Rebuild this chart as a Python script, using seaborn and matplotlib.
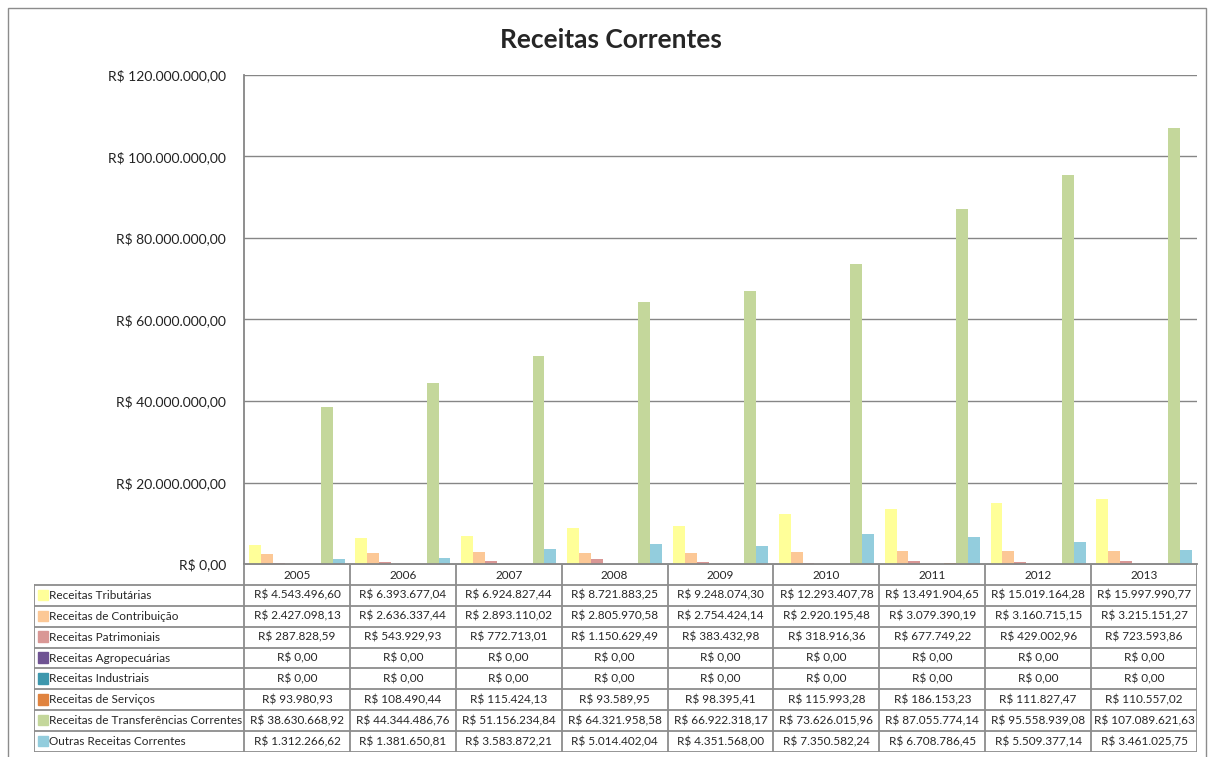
import numpy as np
import pandas as pd
import seaborn as sns
import matplotlib.pyplot as plt
from matplotlib.patches import Rectangle
from matplotlib.ticker import FuncFormatter

# --------------------------------------------------
# DATA (read from the chart's data table)
# --------------------------------------------------

anos = ["2005", "2006", "2007", "2008", "2009", "2010", "2011", "2012", "2013"]

series = [
    "Receitas Tributárias",
    "Receitas de Contribuição",
    "Receitas Patrimoniais",
    "Receitas Agropecuárias",
    "Receitas Industriais",
    "Receitas de Serviços",
    "Receitas de Transferências Correntes",
    "Outras Receitas Correntes",
]

tributarias = [4543496.60, 6393677.04, 6924827.44, 8721883.25, 9248074.30,
               12293407.78, 13491904.65, 15019164.28, 15997990.77]
contribuicao = [2427098.13, 2636337.44, 2893110.02, 2805970.58, 2754424.14,
                2920195.48, 3079390.19, 3160715.15, 3215151.27]
patrimoniais = [287828.59, 543929.93, 772713.01, 1150629.49, 383432.98,
                318916.36, 677749.22, 429002.96, 723593.86]
agropecuarias = [0.0, 0.0, 0.0, 0.0, 0.0, 0.0, 0.0, 0.0, 0.0]
industriais = [0.0, 0.0, 0.0, 0.0, 0.0, 0.0, 0.0, 0.0, 0.0]
servicos = [93980.93, 108490.44, 115424.13, 93589.95, 98395.41,
            115993.28, 186153.23, 111827.47, 110557.02]
transferencias = [38630668.92, 44344486.76, 51156234.84, 64321958.58, 66922318.17,
                  73626015.96, 87055774.14, 95558939.08, 107089621.63]
outras = [1312266.62, 1381650.81, 3583872.21, 5014402.04, 4351568.00,
          7350582.24, 6708786.45, 5509377.14, 3461025.75]

cores = ["#FFFF99", "#FCC896", "#D99795", "#6F5393",
         "#3D97AD", "#E0833F", "#C4D79B", "#93CDDD"]

valores = [tributarias, contribuicao, patrimoniais, agropecuarias,
           industriais, servicos, transferencias, outras]

df = pd.DataFrame(
    [(a, s, v[i]) for s, v in zip(series, valores) for i, a in enumerate(anos)],
    columns=["ano", "serie", "valor"],
)


def brl(x, pos=None):
    s = f"{x:,.2f}".replace(",", "_").replace(".", ",").replace("_", ".")
    return f"R$ {s}"


# --------------------------------------------------
# FIGURE
# --------------------------------------------------

sns.set_style("white")
plt.rcParams["font.family"] = ["Lato", "DejaVu Sans"]

W, H = 1214, 757
fig = plt.figure(figsize=(W / 100, H / 100), dpi=100)

grid_col = "#868686"

# outer chart border
fig.patches.append(Rectangle((8 / W, -0.01), 1198 / W, 1 - 8 / H + 0.01,
                             transform=fig.transFigure, fill=False,
                             edgecolor="#8c8c8c", linewidth=1))

left, right, top, bottom = 244, 1197, 75, 564
ax = fig.add_axes([left / W, 1 - bottom / H, (right - left) / W, (bottom - top) / H])

sns.barplot(data=df, x="ano", y="valor", hue="serie", palette=cores,
            width=0.9, ax=ax, legend=False, linewidth=0, saturation=1)

ax.set_ylim(0, 120000000)
ax.set_yticks(np.arange(0, 120000001, 20000000))
ax.yaxis.set_major_formatter(FuncFormatter(brl))
ax.set_xlim(-0.5, len(anos) - 0.5)
ax.set_xticks([])
ax.set_xlabel("")
ax.set_ylabel("")
ax.tick_params(axis="y", length=0, pad=13, labelsize=10, labelcolor="#222222")
ax.yaxis.grid(True, color=grid_col, linewidth=1)
ax.set_axisbelow(True)
for side in ["top", "right"]:
    ax.spines[side].set_visible(False)
for side in ["left", "bottom"]:
    ax.spines[side].set_color(grid_col)
    ax.spines[side].set_linewidth(1.3)

fig.text(0.503, 1 - 40 / H, "Receitas Correntes", ha="center", va="center",
         fontsize=19, fontweight="bold")

# --------------------------------------------------
# DATA TABLE
# --------------------------------------------------

tab_left, tab_bottom = 34, 752
label_w = (left - tab_left) / ((right - left) / len(anos))
tab = fig.add_axes([tab_left / W, 1 - tab_bottom / H,
                    (right - tab_left) / W, (tab_bottom - bottom) / H])
tab.set_xlim(-0.5 - label_w, len(anos) - 0.5)
tab.set_ylim(len(series) + 1, 0)
tab.axis("off")

lc = "#8c8c8c"
x0, x1 = -0.5 - label_w, len(anos) - 0.5
n = len(series)
# header row
tab.plot([-0.5, x1], [0, 0], color=lc, lw=1.3)
for j in range(len(anos) + 1):
    tab.plot([j - 0.5, j - 0.5], [0, n + 1], color=lc, lw=1.3)
for i in range(1, n + 2):
    tab.plot([x0, x1], [i, i], color=lc, lw=1.3)
tab.plot([x0, x0], [1, n + 1], color=lc, lw=1.3)

for j, a in enumerate(anos):
    tab.text(j, 0.55, a, ha="center", va="center", fontsize=8.5)

sq_w = 10 / ((right - left) / len(anos))
for i, (s, v, c) in enumerate(zip(series, valores, cores)):
    y = i + 1.5
    tab.add_patch(Rectangle((x0 + 0.035, y - 0.27), sq_w, 0.5, color=c))
    tab.text(x0 + 0.035 + sq_w + 0.01, y, s, ha="left", va="center", fontsize=8.5)
    for j in range(len(anos)):
        tab.text(j, y, brl(v[j]), ha="center", va="center", fontsize=8.5)

fig.savefig("out.png", dpi=100)
